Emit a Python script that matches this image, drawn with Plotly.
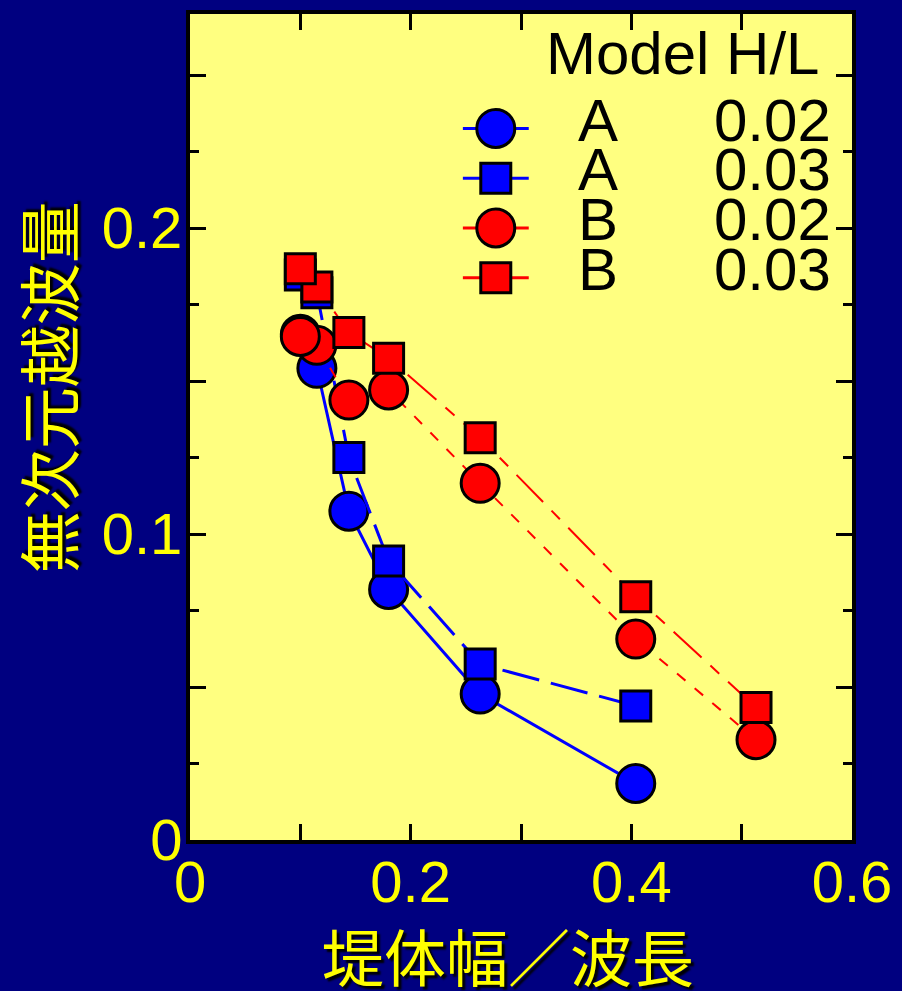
import plotly.graph_objects as go

# ---- data -------------------------------------------------------------
# breakwater crest width / wavelength (listed right to left)
x_a = [0.404, 0.263, 0.180, 0.144, 0.115, 0.100]
x_b = [0.513, 0.404, 0.263, 0.180, 0.144, 0.115, 0.100]

# dimensionless overtopping volume
y_a_002 = [0.0185, 0.0477, 0.0819, 0.1075, 0.1542, 0.1653]
y_a_003 = [0.0438, 0.0575, 0.0912, 0.1250, 0.1789, 0.1847]
y_b_002 = [0.0328, 0.0657, 0.1166, 0.1471, 0.1438, 0.1617, 0.1646]
y_b_003 = [0.0433, 0.0795, 0.1315, 0.1575, 0.1659, 0.1808, 0.1867]

models = ["A", "A", "B", "B"]
ratios = ["0.02", "0.03", "0.02", "0.03"]

x_tick_vals = [0, 0.1, 0.2, 0.3, 0.4, 0.5, 0.6]
x_tick_text = ["0", "", "0.2", "", "0.4", "", "0.6"]
y_tick_vals = [0, 0.05, 0.1, 0.15, 0.2, 0.25]
y_tick_text = ["0", "", "0.1", "", "0.2", ""]

x_title = "堤体幅／波長"
y_title = "無次元越波量"
legend_title = "Model H/L"

# ---- styling ----------------------------------------------------------
NAVY = "#000080"
PAPER_YELLOW = "#FFFF80"
BLUE = "#0000FF"
RED = "#FF0000"
LATIN = "Liberation Sans, Arial, sans-serif"
CJK = "Noto Sans CJK JP, sans-serif"

series = [
    dict(x=x_a, y=y_a_002, color=BLUE, symbol="circle", size=38, lw=3, dash="solid"),
    dict(x=x_a, y=y_a_003, color=BLUE, symbol="square", size=30, lw=3, dash="38px,12px"),
    dict(x=x_b, y=y_b_002, color=RED, symbol="circle", size=38, lw=2, dash="11px,12px"),
    dict(x=x_b, y=y_b_003, color=RED, symbol="square", size=30, lw=2, dash="38px,12px,12px,12px"),
]

fig = go.Figure()
for s, m, r in zip(series, models, ratios):
    fig.add_trace(go.Scatter(
        x=s["x"], y=s["y"], mode="lines+markers",
        name=f"{m} {r}",
        line=dict(color=s["color"], width=s["lw"], dash=s["dash"]),
        marker=dict(symbol=s["symbol"], size=s["size"], color=s["color"],
                    line=dict(color="black", width=3)),
        showlegend=False, cliponaxis=False,
    ))

# ---- hand-built legend (large symbols) --------------------------------
shapes = []
annotations = []
sym_x = 0.4619
row_y = [0.8614, 0.8012, 0.7410, 0.6807]
text_shift = 0.010
legend_font = dict(family=LATIN, size=60, color="black")
for s, m, r, yy in zip(series, models, ratios, row_y):
    shapes.append(dict(type="line", xref="paper", yref="paper",
                       x0=0.4122, x1=0.5117, y0=yy, y1=yy,
                       line=dict(color=s["color"], width=3)))
    half = s["size"] / 2
    shapes.append(dict(type="circle" if s["symbol"] == "circle" else "rect",
                       xref="paper", yref="paper",
                       xsizemode="pixel", ysizemode="pixel",
                       xanchor=sym_x, yanchor=yy,
                       x0=-half, x1=half, y0=-half, y1=half,
                       fillcolor=s["color"], line=dict(color="black", width=3)))
    annotations.append(dict(text=m, xref="paper", yref="paper", x=0.617, y=yy + text_shift,
                            xanchor="center", yanchor="middle", showarrow=False,
                            font=legend_font))
    annotations.append(dict(text=r, xref="paper", yref="paper", x=0.972, y=yy + text_shift,
                            xanchor="right", yanchor="middle", showarrow=False,
                            font=legend_font))
annotations.append(dict(text=legend_title, xref="paper", yref="paper", x=0.744, y=0.942 + text_shift,
                        xanchor="center", yanchor="middle", showarrow=False,
                        font=legend_font))

# axis titles with a dark drop shadow
annotations.append(dict(text=x_title, xref="paper", yref="paper", x=0.480, y=-0.1395,
                        xanchor="center", yanchor="middle", showarrow=False,
                        font=dict(family=CJK, size=62, color="yellow",
                                  shadow="3px 3px 2px black")))
annotations.append(dict(text=y_title, xref="paper", yref="paper", x=-0.2160, y=0.548,
                        xanchor="center", yanchor="middle", showarrow=False, textangle=-90,
                        font=dict(family=CJK, size=62, color="yellow",
                                  shadow="3px 3px 2px black")))

axis_common = dict(
    showline=True, linecolor="black", linewidth=4, mirror="ticks",
    ticks="inside", ticklen=16, tickwidth=3, tickcolor="black",
    showgrid=False, zeroline=False,
    tickfont=dict(family=LATIN, size=58, color="yellow"),
)

fig.update_xaxes(range=[0, 0.6], tickvals=x_tick_vals, ticktext=x_tick_text,
                 ticklabelstandoff=-12, **axis_common)
fig.update_yaxes(range=[0, 0.27], tickvals=y_tick_vals, ticktext=y_tick_text,
                 ticklabelstandoff=-8,
                 minor=dict(ticks="inside", ticklen=9, tickwidth=3, tickcolor="black",
                            dtick=0.025, tick0=0, showgrid=False),
                 **axis_common)

fig.update_layout(
    width=902, height=991,
    margin=dict(l=190, r=48, t=10, b=151),
    paper_bgcolor=NAVY, plot_bgcolor=PAPER_YELLOW,
    shapes=shapes, annotations=annotations,
    showlegend=False,
)

fig.write_html("out.html")
